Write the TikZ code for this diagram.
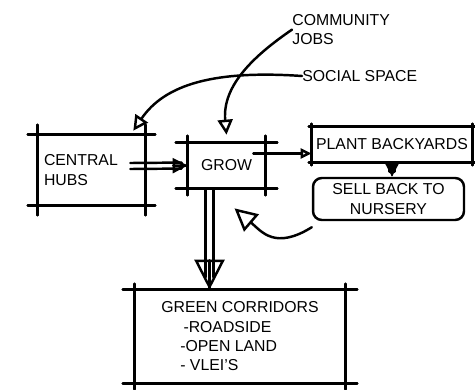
\documentclass[tikz,border=0pt]{standalone}
\usepackage{fontspec}
\setmainfont{Liberation Sans}
\usetikzlibrary{arrows.meta, calc, positioning}

% four crossing strokes round a node, like a pen sketch
\newcommand{\roughbox}[3]{%
  \draw[sketch] ($(#1.north west)+(-#2,0)$) -- ($(#1.north east)+(#2,0)$);
  \draw[sketch] ($(#1.south west)+(-#2,0)$) -- ($(#1.south east)+(#2,0)$);
  \draw[sketch] ($(#1.north west)+(0,-#3)$) -- ($(#1.south west)+(0,#3)$);
  \draw[sketch] ($(#1.north east)+(0,-#3)$) -- ($(#1.south east)+(0,#3)$);
}
% double shaft with one open head: from, to, half gap, tip size, pull-back
\newcommand{\twinarrow}[5]{%
  \coordinate (tw) at ($(#2)!#5!(#1)$);
  \draw[sketch] ($(#1)+(#3)$) -- ($(tw)+(#3)$);
  \draw[sketch] ($(#1)-(#3)$) -- ($(tw)-(#3)$);
  \draw[sketch, opentip=#4] ($(#2)!1pt!(#1)$) -- (#2);
}

\begin{document}
\begin{tikzpicture}[
  x=0.02cm, y=-0.02cm,
  font=\small,
  sketch/.style={line width=1.4pt, line cap=round, line join=round},
  opentip/.style={-{Triangle[open, length=#1, width=#1]}},
  sketchbox/.style={inner sep=2pt, align=center}]

\useasboundingbox (0,0) rectangle (475,389);

%Boxes
\node[sketchbox, minimum width=2.14cm, minimum height=1.4cm, text width=1.9cm, align=left] (hub) at (91.5,170) {CENTRAL\\HUBS};
\node[sketchbox, minimum width=1.54cm, minimum height=0.9cm] (grow) at (226.5,165.5) {GROW};
\node[sketchbox, minimum width=3.2cm, minimum height=0.7cm] (plant) at (392,144.5) {PLANT BACKYARDS};
\node[sketchbox, draw, sketch, rounded corners=5pt, minimum width=3.02cm, minimum height=0.84cm] (sell) at (388.5,199) {SELL BACK TO\\NURSERY};
\node[sketchbox, minimum width=4.2cm, minimum height=1.86cm, align=left] (green) at (240,336.5) {
GREEN CORRIDORS\\
\hspace{1.4em}-ROADSIDE\\
\hspace{1.2em}-OPEN LAND\\
\hspace{1.2em}- VLEI'S};

\roughbox{hub}{10}{10}
\roughbox{grow}{12}{7}
\roughbox{plant}{3}{3}
\roughbox{green}{12}{6}

%Labels at the top
\node[anchor=north west, align=left, inner sep=0pt] (jobs) at (292,14) {COMMUNITY\\JOBS};
\node[anchor=west, inner sep=0pt] (social) at (302,76) {SOCIAL SPACE};

%Connectors
\draw[sketch, opentip=0.3cm] (social.west) .. controls (215,70) and (165,84) .. ($(hub.north east)+(-12,-4)$);
\draw[sketch, opentip=0.3cm] (jobs.west) .. controls (255,55) and (222,85) .. ($(grow.north)+(0,-8)$);

\coordinate (hubout) at ($(hub.east)+(-15,-4)$);
\twinarrow{hubout}{grow.west}{0,3}{0.3cm}{0.12cm}

\coordinate (growout) at ($(grow.east)+(-12,-12)$);
\draw[sketch, -{Triangle[open, length=0.22cm, width=0.2cm]}] (growout) -- (growout -| plant.west);

\twinarrow{plant.south}{plant.south |- sell.north}{2.5,0}{0.3cm}{0.1cm}

\coordinate (growdown) at ($(grow.south)+(-17,0)$);
\twinarrow{growdown}{growdown |- green.north}{4,0}{0.6cm}{0.25cm}

\coordinate (sellout) at ($(sell.south west)+(0,6)$);
\coordinate (growin) at ($(grow.south)+(8,20)$);
\draw[sketch, opentip=0.45cm] (sellout) .. controls (275,250) and (262,232) .. (growin);

\end{tikzpicture}
\end{document}
